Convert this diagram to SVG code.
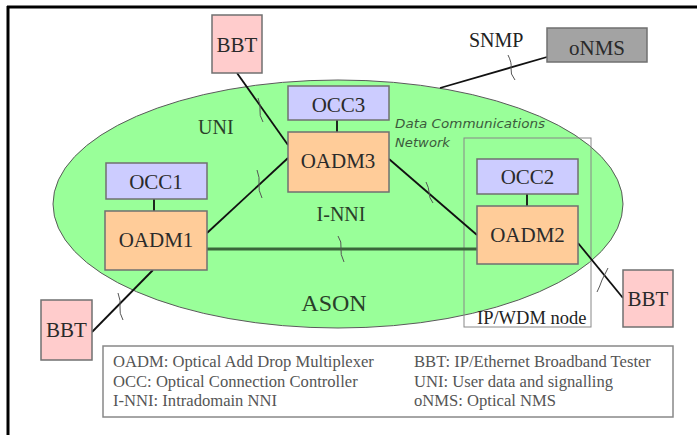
<svg xmlns="http://www.w3.org/2000/svg" width="697" height="435" viewBox="0 0 697 435">
<style>
.box{stroke:#707070;stroke-width:1.5}
.occ{fill:#CCCCFF}
.oadm{fill:#FFCC99}
.bbt{fill:#FFCCCC}
.nms{fill:#A3A3A3}
.t{font-size:21px;fill:#2a2a2a;text-anchor:middle}
.lbl{fill:#2a3f2a}
.leg{font-size:16.6px;fill:#555}
.ln{stroke:#111;stroke-width:1.8;fill:none}
.tick{stroke:#555;stroke-width:1;fill:none}
</style>
<rect x="0" y="0" width="697" height="435" fill="#fff"/>
<g id="frame">
<line x1="7" y1="7" x2="697" y2="7" stroke="#000" stroke-width="3"/>
<line x1="8" y1="6" x2="8" y2="435" stroke="#000" stroke-width="3"/>
</g>
<g font-family="Liberation Serif, Times New Roman, serif">
<g id="ason">
<ellipse cx="338" cy="204" rx="285" ry="124" fill="#99FF99" stroke="#5a5a5a" stroke-width="1"/>
<text class="lbl" x="334" y="311" font-size="24" text-anchor="middle">ASON</text>
<text x="395" y="128" font-family="DejaVu Sans, sans-serif" font-style="italic" font-size="12.5" fill="#3c5a3c" textLength="150" lengthAdjust="spacingAndGlyphs">Data Communications</text>
<text x="395" y="147" font-family="DejaVu Sans, sans-serif" font-style="italic" font-size="12.5" fill="#3c5a3c" textLength="55" lengthAdjust="spacingAndGlyphs">Network</text>
</g>
<g id="ipwdm">
<rect x="464" y="138" width="127" height="189" fill="none" stroke="#888" stroke-width="1"/>
<text x="477" y="324" font-size="18.5" fill="#222">IP/WDM node</text>
</g>
<g id="connectors">
<line class="ln" x1="237" y1="73" x2="288" y2="145" stroke-width="1.5"/>
<line class="ln" x1="207" y1="233" x2="288" y2="158"/>
<line class="ln" x1="389" y1="159" x2="477" y2="235"/>
<line x1="207" y1="249" x2="477" y2="249" stroke="#3a663a" stroke-width="3"/>
<line class="ln" x1="92" y1="332" x2="153" y2="270"/>
<line class="ln" x1="578" y1="243" x2="623" y2="298" stroke-width="1.5"/>
<line class="ln" x1="440" y1="88" x2="547" y2="57"/>
<line class="ln" x1="154" y1="199" x2="154" y2="211"/>
<line class="ln" x1="337" y1="120" x2="337" y2="132" stroke="#2a4a2a"/>
<line class="ln" x1="527" y1="194" x2="527" y2="206"/>
<path class="tick" d="M258 98 q3 8 2 12 q-1 5 3 12"/>
<path class="tick" d="M257 170 q3 8 2 14 q-1 6 3 14"/>
<path class="tick" d="M338 236 q4 6 3 12 q-1 6 3 14"/>
<path class="tick" d="M426 182 q3 6 3 10 q0 6 4 11"/>
<path class="tick" d="M118 293 q3 8 2 14 q-1 6 3 13"/>
<path class="tick" d="M608 268 q-4 8 -6 12 q-2 6 -5 12"/>
<path class="tick" d="M508 55 q4 8 3 13 q-1 6 4 12"/>
<text class="lbl" x="198" y="134" font-size="20">UNI</text>
<text class="lbl" x="341" y="221" font-size="20" text-anchor="middle">I-NNI</text>
<text x="469" y="47" font-size="20" fill="#222">SNMP</text>
</g>
<g id="bbt1">
<rect class="box bbt" x="212" y="15" width="50" height="58"/>
<text class="t" x="237" y="52">BBT</text>
</g>
<g id="occ3">
<rect class="box occ" x="288" y="86" width="101" height="34"/>
<text class="t" x="338.5" y="112">OCC3</text>
</g>
<g id="oadm3">
<rect class="box oadm" x="288" y="132" width="101" height="60"/>
<text class="t" x="338" y="168">OADM3</text>
</g>
<g id="occ1">
<rect class="box occ" x="106" y="163" width="101" height="36"/>
<text class="t" x="156" y="189">OCC1</text>
</g>
<g id="oadm1">
<rect class="box oadm" x="105" y="211" width="102" height="59"/>
<text class="t" x="156" y="247">OADM1</text>
</g>
<g id="occ2">
<rect class="box occ" x="477" y="159" width="101" height="35"/>
<text class="t" x="527.5" y="184">OCC2</text>
</g>
<g id="oadm2">
<rect class="box oadm" x="477" y="206" width="101" height="58"/>
<text class="t" x="527.5" y="242">OADM2</text>
</g>
<g id="bbt2">
<rect class="box bbt" x="41" y="300" width="51" height="60"/>
<text class="t" x="66.5" y="337">BBT</text>
</g>
<g id="bbt3">
<rect class="box bbt" x="623" y="270" width="50" height="57"/>
<text class="t" x="648" y="306">BBT</text>
</g>
<g id="onms">
<rect class="box nms" x="547" y="28" width="100" height="34"/>
<text class="t" x="597" y="55">oNMS</text>
</g>
<g id="legend">
<rect x="103" y="346" width="570" height="71" fill="#fff" stroke="#888" stroke-width="1.5"/>
<text class="leg" x="113" y="367">OADM: Optical Add Drop Multiplexer</text>
<text class="leg" x="113" y="387">OCC: Optical Connection Controller</text>
<text class="leg" x="113" y="406">I-NNI: Intradomain NNI</text>
<text class="leg" x="414" y="367">BBT: IP/Ethernet Broadband Tester</text>
<text class="leg" x="414" y="387">UNI: User data and signalling</text>
<text class="leg" x="414" y="406">oNMS: Optical NMS</text>
</g>
</g>
</svg>
